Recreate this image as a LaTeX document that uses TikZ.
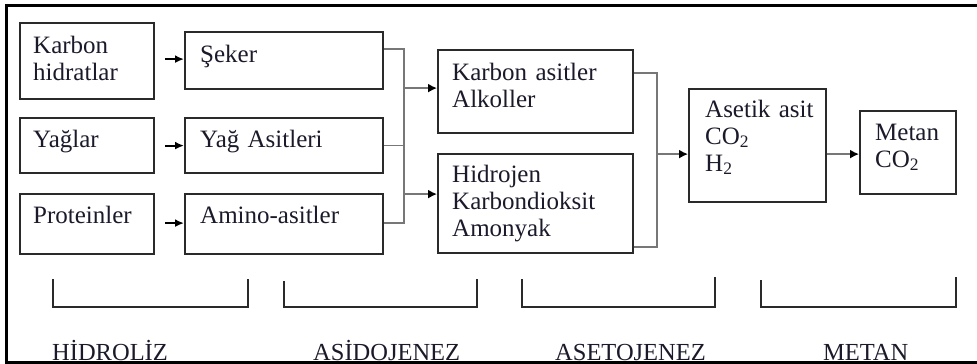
\documentclass[tikz,border=0pt]{standalone}
\usepackage{fontspec}
\setmainfont{Liberation Serif}
\usetikzlibrary{arrows.meta}
\definecolor{boxline}{HTML}{2A2A2A}
\definecolor{conline}{HTML}{777777}
\definecolor{txtcol}{HTML}{1A1A2A}
\tikzset{
  box/.style={draw=boxline, line width=2.2pt, rectangle, inner sep=0pt, anchor=north west},
  txt/.style={anchor=base west, inner sep=0pt, text width=190pt, align=left, text=txtcol, font=\fontsize{25}{27}\selectfont},
  lbl/.style={anchor=base west, inner sep=0pt, text=txtcol, font=\fontsize{24.5}{27}\selectfont},
  conn/.style={draw=conline, line width=1.6pt},
  arr/.style={draw=conline, line width=1.6pt, -{Latex[length=9pt,width=9pt,color=black]}},
  darr/.style={draw=black, line width=2pt, -{Latex[length=9pt,width=8pt]}},
  brk/.style={draw=boxline, line width=2pt},
  frame/.style={draw=black}
}
\begin{document}
\begin{tikzpicture}[x=1pt,y=-1pt]
\useasboundingbox (0,0) rectangle (977,364);
% frame (top, left, bottom)
\coordinate (fTL) at (6.5,5.5);
\coordinate (fTR) at (977,5.5);
\coordinate (fBL) at (6.5,362.5);
\coordinate (fBR) at (977,362.5);
\draw[frame, line width=3.5pt] (4.75,5.5) -- (fTR);
\draw[frame, line width=3.5pt] (6.5,3.75) -- (6.5,364);
\draw[frame, line width=2.2pt] (fBL) -- (fBR);

% column 1
\node[box, minimum width=134pt, minimum height=76pt] (kh) at (19,22) {};
\node[box, minimum width=134pt, minimum height=55pt] (yg) at (19,117) {};
\node[box, minimum width=134pt, minimum height=60pt] (pr) at (19,193) {};
% column 2
\node[box, minimum width=198pt, minimum height=57pt] (sk) at (184,31) {};
\node[box, minimum width=198pt, minimum height=55pt] (ya) at (184,117) {};
\node[box, minimum width=198pt, minimum height=60pt] (am) at (184,193) {};
% column 3
\node[box, minimum width=195pt, minimum height=83pt] (ka) at (437,49) {};
\node[box, minimum width=195pt, minimum height=99pt] (hi) at (437,153) {};
% column 4, 5
\node[box, minimum width=137pt, minimum height=113pt] (as) at (688,88) {};
\node[box, minimum width=96pt, minimum height=83pt] (me) at (859,110) {};

% texts
\node[txt] (khT) at ([xshift=14pt,yshift=-31pt]kh.north west) {Karbon\\hidratlar};
\node[txt] (ygT) at ([xshift=14pt,yshift=-30pt]yg.north west) {Yağlar};
\node[txt] (prT) at ([xshift=14pt,yshift=-30pt]pr.north west) {Proteinler};
\node[txt] (skT) at ([xshift=16pt,yshift=-31pt]sk.north west) {Şeker};
\node[txt] (yaT) at ([xshift=16pt,yshift=-30pt]ya.north west) {Yağ Asitleri};
\node[txt] (amT) at ([xshift=16pt,yshift=-30pt]am.north west) {Amino-asitler};
\node[txt] (kaT) at ([xshift=15pt,yshift=-31pt]ka.north west) {Karbon asitler\\Alkoller};
\node[txt] (hiT) at ([xshift=15pt,yshift=-29pt]hi.north west) {Hidrojen\\Karbondioksit\\Amonyak};
\node[txt] (asT) at ([xshift=17pt,yshift=-29pt]as.north west) {Asetik asit\\CO\textsubscript{2}\\H\textsubscript{2}};
\node[txt] (meT) at ([xshift=16pt,yshift=-30pt]me.north west) {Metan\\CO\textsubscript{2}};

% hydrolysis arrows
\draw[darr] ([xshift=10pt,yshift=2pt]kh.east) -- ([yshift=1.5pt]sk.west);
\draw[darr] ([xshift=10pt]yg.east) -- (ya.west);
\draw[darr] ([xshift=10pt,yshift=1pt]pr.east) -- ([yshift=1pt]am.west);

% left bus
\coordinate (jA) at (404,135);
\draw[conn] ([yshift=11.5pt]sk.east) -| (jA) |- ([yshift=1pt]am.east);
\draw[conn] (ya.east) -- (ya.east -| jA);
\coordinate (kaIn) at ([yshift=3.5pt]ka.west);
\coordinate (hiIn) at ([yshift=9.5pt]hi.west);
\draw[arr] (kaIn -| jA) -- (kaIn);
\draw[arr] (hiIn -| jA) -- (hiIn);

% right bus
\coordinate (jB) at (657,150);
\draw[conn] ([yshift=18.5pt]ka.east) -| (jB) |- ([yshift=-43.5pt]hi.east);
\coordinate (asIn) at ([yshift=-8.5pt]as.west);
\draw[arr] (asIn -| jB) -- (asIn);
\coordinate (meIn) at ([yshift=-1.5pt]me.west);
\draw[arr] (meIn -| as.east) -- (meIn);

% brackets
\draw[brk] (53,279) coordinate (b1a) -- (53,307) -- (248,307) -- (248,279);
\draw[brk] (284,281) coordinate (b2a) -- (284,307) -- (477,307) -- (477,279);
\draw[brk] (522,279) coordinate (b3a) -- (522,307) -- (715,307) -- (715,277);
\draw[brk] (761,280) coordinate (b4a) -- (761,307) -- (956,307) -- (956,277);

% phase labels
\node[lbl] (l1) at (52,360) {HİDROLİZ};
\node[lbl] (l2) at (313,360) {ASİDOJENEZ};
\node[lbl] (l3) at (555,360) {ASETOJENEZ};
\node[lbl] (l4) at (823,360) {METAN};
\end{tikzpicture}
\end{document}
